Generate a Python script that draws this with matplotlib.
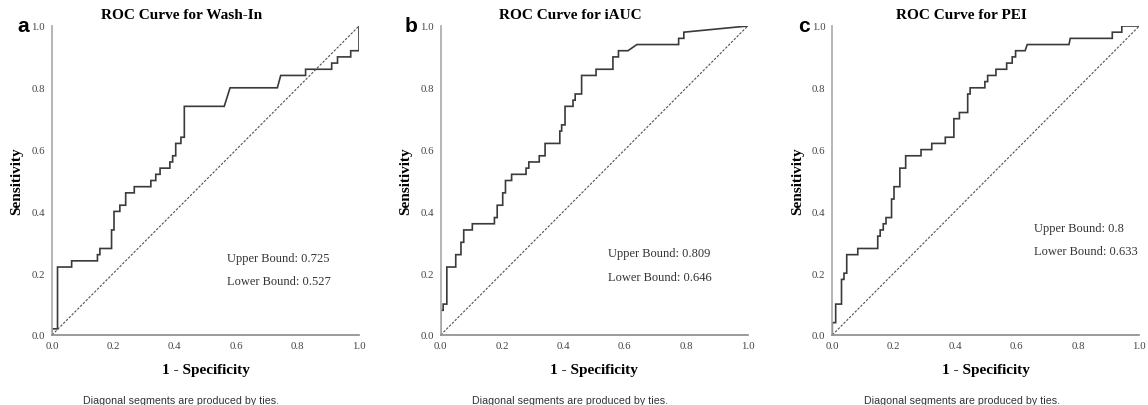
import matplotlib
matplotlib.use("Agg")
import matplotlib.pyplot as plt

# ---- data (step vertices of each ROC curve) ----
washin_fpr = [0, 0, 0.018, 0.018, 0.064, 0.064, 0.148, 0.148, 0.156, 0.156,
              0.194, 0.194, 0.202, 0.202, 0.221, 0.221, 0.240, 0.240, 0.268, 0.268,
              0.322, 0.322, 0.338, 0.338, 0.352, 0.352, 0.384, 0.384, 0.393, 0.393,
              0.403, 0.403, 0.420, 0.420, 0.431, 0.431, 0.561, 0.580, 0.734, 0.745,
              0.826, 0.826, 0.911, 0.911, 0.930, 0.930, 0.973, 0.973, 1.0, 1.0]
washin_tpr = [0, 0.02, 0.02, 0.22, 0.22, 0.24, 0.24, 0.26, 0.26, 0.28,
              0.28, 0.34, 0.34, 0.40, 0.40, 0.42, 0.42, 0.46, 0.46, 0.48,
              0.48, 0.50, 0.50, 0.52, 0.52, 0.54, 0.54, 0.56, 0.56, 0.58,
              0.58, 0.62, 0.62, 0.64, 0.64, 0.74, 0.74, 0.80, 0.80, 0.84,
              0.84, 0.86, 0.86, 0.88, 0.88, 0.90, 0.90, 0.92, 0.92, 1.0]

iauc_fpr = [0, 0, 0.008, 0.008, 0.020, 0.020, 0.049, 0.049, 0.066, 0.066,
            0.075, 0.075, 0.103, 0.103, 0.175, 0.175, 0.184, 0.184, 0.202, 0.202,
            0.211, 0.211, 0.231, 0.231, 0.278, 0.278, 0.287, 0.287, 0.321, 0.321,
            0.340, 0.340, 0.388, 0.388, 0.394, 0.394, 0.405, 0.405, 0.431, 0.431,
            0.438, 0.438, 0.459, 0.459, 0.506, 0.506, 0.561, 0.561, 0.579, 0.579,
            0.610, 0.639, 0.775, 0.775, 0.792, 0.792, 1.0]
iauc_tpr = [0, 0.08, 0.08, 0.10, 0.10, 0.22, 0.22, 0.26, 0.26, 0.30,
            0.30, 0.34, 0.34, 0.36, 0.36, 0.38, 0.38, 0.42, 0.42, 0.46,
            0.46, 0.50, 0.50, 0.52, 0.52, 0.54, 0.54, 0.56, 0.56, 0.58,
            0.58, 0.62, 0.62, 0.66, 0.66, 0.68, 0.68, 0.74, 0.74, 0.76,
            0.76, 0.78, 0.78, 0.84, 0.84, 0.86, 0.86, 0.90, 0.90, 0.92,
            0.92, 0.94, 0.94, 0.96, 0.96, 0.98, 1.0]

pei_fpr = [0, 0, 0.011, 0.011, 0.030, 0.030, 0.038, 0.038, 0.047, 0.047,
           0.083, 0.083, 0.148, 0.148, 0.156, 0.156, 0.166, 0.166, 0.175, 0.175,
           0.193, 0.193, 0.201, 0.201, 0.220, 0.220, 0.239, 0.239, 0.289, 0.289,
           0.324, 0.324, 0.368, 0.368, 0.396, 0.396, 0.414, 0.414, 0.441, 0.441,
           0.449, 0.449, 0.497, 0.497, 0.506, 0.506, 0.533, 0.533, 0.568, 0.568,
           0.586, 0.586, 0.597, 0.597, 0.628, 0.635, 0.771, 0.775, 0.912, 0.912,
           0.943, 0.943, 1.0]
pei_tpr = [0, 0.04, 0.04, 0.10, 0.10, 0.18, 0.18, 0.20, 0.20, 0.26,
           0.26, 0.28, 0.28, 0.32, 0.32, 0.34, 0.34, 0.36, 0.36, 0.38,
           0.38, 0.44, 0.44, 0.48, 0.48, 0.54, 0.54, 0.58, 0.58, 0.60,
           0.60, 0.62, 0.62, 0.64, 0.64, 0.70, 0.70, 0.72, 0.72, 0.78,
           0.78, 0.80, 0.80, 0.82, 0.82, 0.84, 0.84, 0.86, 0.86, 0.88,
           0.88, 0.90, 0.90, 0.92, 0.92, 0.94, 0.94, 0.96, 0.96, 0.98,
           0.98, 1.0, 1.0]

panel_letters = ["a", "b", "c"]
titles = ["ROC Curve for Wash-In", "ROC Curve for iAUC", "ROC Curve for PEI"]
upper_bounds = ["0.725", "0.809", "0.8"]
lower_bounds = ["0.527", "0.646", "0.633"]
ticks = [0.0, 0.2, 0.4, 0.6, 0.8, 1.0]
tick_labels = ["0.0", "0.2", "0.4", "0.6", "0.8", "1.0"]
footnote = "Diagonal segments are produced by ties."

curves = [(washin_fpr, washin_tpr), (iauc_fpr, iauc_tpr), (pei_fpr, pei_tpr)]

# ---- layout/styles ----
W, H = 1148, 406
fig = plt.figure(figsize=(W / 100, H / 100), dpi=100)
lefts = [52, 440.7, 832.3]
ax_w, ax_bottom, ax_top = 307, 336, 27
text_pos = [(0.569, 0.249, 0.176), (0.546, 0.265, 0.189), (0.658, 0.345, 0.271)]
serif = ["Liberation Serif", "DejaVu Serif"]
sans = ["Liberation Sans", "DejaVu Sans"]

for i, (fpr, tpr) in enumerate(curves):
    ax = fig.add_axes([lefts[i] / W, 1 - ax_bottom / H, ax_w / W, (ax_bottom - ax_top) / H])
    ax.plot(fpr, tpr, color="#3a3a3a", lw=1.2, solid_joinstyle="miter")
    ax.plot([0, 1], [0, 1], color="#505050", lw=0.8, dashes=(2.2, 1.4))
    ax.set_xlim(0, 1)
    ax.set_ylim(0, 1)
    for s in ["top", "right"]:
        ax.spines[s].set_visible(False)
    ax.spines["left"].set_color("#a8a8a8")
    ax.spines["bottom"].set_color("#8a8a8a")
    ax.spines["left"].set_linewidth(1.2)
    ax.spines["bottom"].set_linewidth(1.2)
    ax.set_xticks(ticks)
    ax.set_yticks(ticks)
    ax.set_xticklabels(tick_labels, family=serif, fontsize=7.8, color="#444444")
    ax.set_yticklabels(tick_labels, family=serif, fontsize=7.8, color="#444444")
    ax.tick_params(axis="both", length=0)
    ax.tick_params(axis="x", pad=4)
    ax.tick_params(axis="y", pad=5)
    ax.set_xlabel("1 - Specificity", family=serif, fontsize=11, fontweight="bold")
    ax.xaxis.set_label_coords(0.5, -0.113)
    ax.xaxis.label.set_va("center")
    ax.set_ylabel("Sensitivity", family=serif, fontsize=11, fontweight="bold")
    ax.yaxis.set_label_coords(-0.114, 0.5)
    ax.yaxis.label.set_va("center")
    ax.text(0.422, 1.038, titles[i], transform=ax.transAxes, ha="center", va="center",
            family=serif, fontsize=11, fontweight="bold")
    ax.text(-0.075, 1.0, panel_letters[i], transform=ax.transAxes, ha="right", va="center",
            family=sans, fontsize=15, fontweight="bold")
    tx, uy, ly = text_pos[i]
    ax.text(tx, uy, "Upper Bound: " + upper_bounds[i], transform=ax.transAxes,
            ha="left", va="center", family=serif, fontsize=9, color="#333333", clip_on=False)
    ax.text(tx, ly, "Lower Bound: " + lower_bounds[i], transform=ax.transAxes,
            ha="left", va="center", family=serif, fontsize=9, color="#333333", clip_on=False)
    ax.text(0.422, -0.21, footnote, transform=ax.transAxes, ha="center", va="center",
            family=sans, fontsize=7.7, color="#333333")

fig.savefig("out.png", dpi=100)
